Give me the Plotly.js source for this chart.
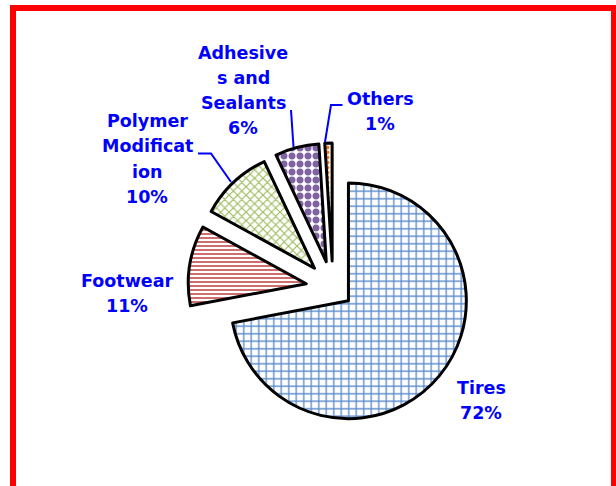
<!DOCTYPE html>
<html>
<head>
<meta charset="utf-8">
<script src="https://cdn.plot.ly/plotly-3.0.1.min.js"></script>
<style>
html,body{margin:0;padding:0;background:#fff;}
#chart{width:616px;height:486px;}
</style>
</head>
<body>
<div id="chart"></div>
<script>
// ---- data ----
var categories = ["Tires", "Footwear", "Polymer Modification", "Adhesives and Sealants", "Others"];
var values = [72, 11, 10, 6, 1];
// label text as wrapped in the original chart
var labelLines = [
  ["Tires"],
  ["Footwear"],
  ["Polymer", "Modificat", "ion"],
  ["Adhesive", "s and", "Sealants"],
  ["Others"]
];

// ---- styling / layout ----
var W = 616, H = 486;
function px(x){ return x / W; }
function py(y){ return 1 - y / H; }

var pulls = [0.17, 0.23, 0.23, 0.23, 0.23];
var fg = ["#5B8BCB", "#C8605C", "#9BBB59", "#8064A2", "#F07E1E"];
var shapesPat = ["+", "-", "x", ".", "."];
var sizes = [7.5, 4, 6, 8, 5];
var solid = [0.32, 0.45, 0.35, 0.6, 0.45];

// label anchor positions (pixel centers of the first line) and line step
var labelPos = [
  {x: 481, y: 388},
  {x: 127, y: 281},
  {x: 147, y: 121},
  {x: 243, y: 52.5},
  {x: 380, y: 99}
];
var lineStep = 25.3;

var total = values.reduce(function(a,b){return a+b;}, 0);
var annotations = [];
for (var i = 0; i < categories.length; i++) {
  var lines = labelLines[i].concat([Math.round(values[i] / total * 100) + "%"]);
  for (var k = 0; k < lines.length; k++) {
    annotations.push({
      xref: "paper", yref: "paper",
      x: px(labelPos[i].x), y: py(labelPos[i].y + k * lineStep),
      xanchor: "center", yanchor: "middle",
      text: lines[k], showarrow: false,
      font: {family: "DejaVu Sans", size: 17.5, color: "#0000FF", weight: "bold"}
    });
  }
}

function pathPx(pts){
  return pts.map(function(p, j){ return (j ? "L" : "M") + px(p[0]) + "," + py(p[1]); }).join(" ");
}
var leaderStyle = {color: "#0000FF", width: 2};
var shapes = [
  // red frame
  {type: "rect", xref: "paper", yref: "paper", x0: px(13), x1: px(614), y0: -0.2, y1: py(8),
   line: {color: "#FF0000", width: 6}, fillcolor: "rgba(0,0,0,0)", layer: "above"},
  // leader lines
  {type: "path", xref: "paper", yref: "paper", path: pathPx([[198,153.5],[211,153.5],[231,182]]), line: leaderStyle},
  {type: "path", xref: "paper", yref: "paper", path: pathPx([[291,110],[293.5,147]]), line: leaderStyle},
  {type: "path", xref: "paper", yref: "paper", path: pathPx([[342.5,105],[331,105],[325,142]]), line: leaderStyle}
];

var trace = {
  type: "pie",
  labels: categories,
  values: values,
  sort: false,
  direction: "clockwise",
  rotation: 0,
  pull: pulls,
  textinfo: "none",
  hoverinfo: "label+percent",
  showlegend: false,
  domain: {x: [px(188), px(478)], y: [py(433), py(143)]},
  marker: {
    colors: ["#FFFFFF","#FFFFFF","#FFFFFF","#FFFFFF","#FFFFFF"],
    line: {color: "#000000", width: 3},
    pattern: {shape: shapesPat, fgcolor: fg, bgcolor: "#FFFFFF", size: sizes, solidity: solid, fillmode: "replace"}
  }
};

var layout = {
  width: W, height: H,
  margin: {l: 0, r: 0, t: 0, b: 0},
  paper_bgcolor: "#FFFFFF",
  plot_bgcolor: "#FFFFFF",
  showlegend: false,
  annotations: annotations,
  shapes: shapes
};

Plotly.newPlot("chart", [trace], layout, {displayModeBar: false, staticPlot: true});
</script>
</body>
</html>
